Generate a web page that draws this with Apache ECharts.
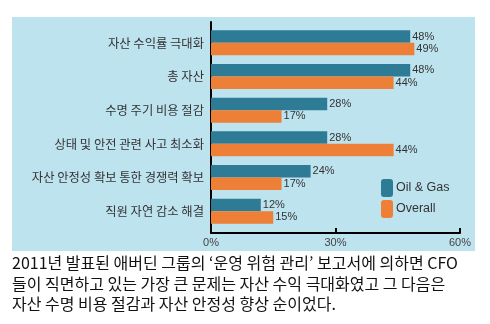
<!DOCTYPE html>
<html><head><meta charset="utf-8">
<script src="https://cdn.jsdelivr.net/npm/echarts@6/dist/echarts.min.js"></script>
<style>html,body{margin:0;padding:0;background:#fff}#c{width:490px;height:324px}</style>
</head><body><div id="c"></div>
<script>
const categories = ['자산 수익률 극대화','총 자산','수명 주기 비용 절감','상태 및 안전 관련 사고 최소화','자산 안정성 확보 통한 경쟁력 확보','직원 자연 감소 해결'];
const oilGas = [48, 48, 28, 28, 24, 12];
const overall = [49, 44, 17, 44, 17, 15];
const xTicks = [0, 30, 60];
const seriesNames = ['Oil & Gas', 'Overall'];
const caption = '2011년 발표된 애버딘 그룹의 ‘운영 위험 관리’ 보고서에 의하면 CFO\n들이 직면하고 있는 가장 큰 문제는 자산 수익 극대화였고 그 다음은\n자산 수명 비용 절감과 자산 안정성 향상 순이었다.';

const font = '"Noto Sans CJK KR", "Noto Sans", sans-serif';
const chart = echarts.init(document.getElementById('c'), null, {renderer:'canvas'});
const lbl = {show:true, position:'right', distance:2, formatter:'{c}%', color:'#333', fontSize:11, fontFamily:'"Liberation Sans", Arial, sans-serif', letterSpacing:-0.5};
chart.setOption({
  animation:false,
  graphic:[
    {type:'rect', z:-10, shape:{x:12,y:17,width:463,height:234}, style:{fill:'#bde3ef'}},
    {type:'text', left:12, top:253, style:{text:caption, font:'16px '+font, fill:'#111', lineHeight:20.5}}
  ],
  grid:[
    {left:211, right:30, top:22, height:211, show:false},
    {left:211, right:30, top:26, height:202, show:false}
  ],
  xAxis:[
    {gridIndex:0, type:'value', min:0, max:60, interval:30,
     axisLine:{show:true, lineStyle:{color:'#000', width:2}},
     axisTick:{show:true, inside:true, length:5, lineStyle:{color:'#000', width:2}},
     axisLabel:{formatter:'{value}%', color:'#444', fontSize:11, margin:4, fontFamily:'"Liberation Sans", Arial, sans-serif'},
     splitLine:{show:false}},
    {gridIndex:1, type:'value', min:0, max:60, show:false, splitLine:{show:false}}
  ],
  yAxis:[
    {gridIndex:0, type:'category', data:[''], axisLine:{show:true, lineStyle:{color:'#000', width:2}}, axisTick:{show:false}, axisLabel:{show:false}},
    {gridIndex:1, type:'category', data:categories, inverse:true,
     axisLine:{show:false}, axisTick:{show:false},
     axisLabel:{color:'#333', fontSize:12.3, margin:7, fontFamily:font}}
  ],
  legend:{orient:'vertical', left:381, top:179, padding:0, itemWidth:12, itemHeight:18, itemGap:3, itemStyle:{borderWidth:0},
    textStyle:{color:'#333', fontSize:12.5, padding:[0,0,0,-2], fontFamily:'"Liberation Sans", Arial, sans-serif'}, data:seriesNames},
  series:[
    {name:seriesNames[0], type:'bar', xAxisIndex:1, yAxisIndex:1, data:oilGas, barWidth:12.5, barGap:'0%',
     itemStyle:{color:'#2e7b96'}, label:lbl},
    {name:seriesNames[1], type:'bar', xAxisIndex:1, yAxisIndex:1, data:overall, barWidth:12.5, barGap:'0%',
     itemStyle:{color:'#ee7f36'}, label:lbl}
  ]
});
</script></body></html>
